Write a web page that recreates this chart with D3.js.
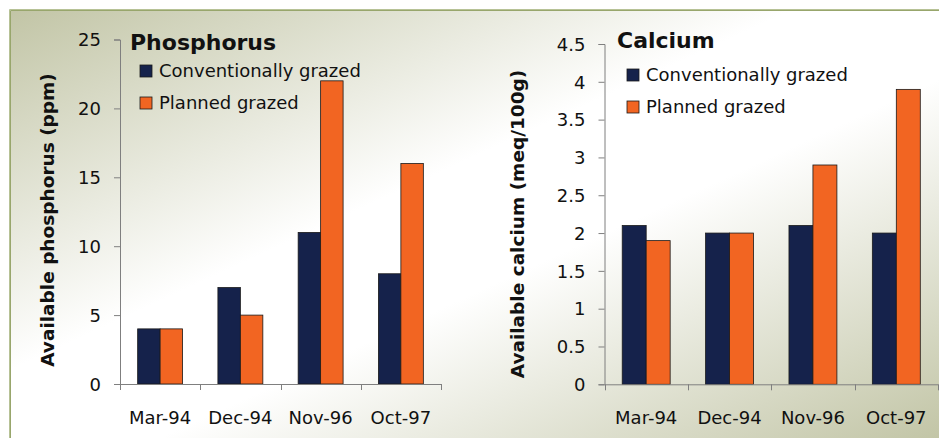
<!DOCTYPE html>
<html>
<head>
<meta charset="utf-8">
<script src="https://cdn.jsdelivr.net/npm/d3@7"></script>
<style>
  html, body { margin: 0; padding: 0; background: #ffffff; }
  svg { display: block; }
</style>
</head>
<body>
<svg id="chart" width="939" height="438"></svg>
<script>
// ---- data ----
const categories = ["Mar-94", "Dec-94", "Nov-96", "Oct-97"];
const seriesNames = ["Conventionally grazed", "Planned grazed"];
const phosConventional = [4, 7, 11, 8];
const phosPlanned = [4, 5, 22, 16];
const calcConventional = [2.1, 2.0, 2.1, 2.0];
const calcPlanned = [1.9, 2.0, 2.9, 3.9];
const phosTicks = [0, 5, 10, 15, 20, 25];
const calcTicks = [0, 0.5, 1, 1.5, 2, 2.5, 3, 3.5, 4, 4.5];

const colors = ["#15224b", "#f26522"];
const font = "'DejaVu Sans', Verdana, sans-serif";

const svg = d3.select("#chart");
const W = 939, H = 438;

// background gradient
const defs = svg.append("defs");
const grad = defs.append("linearGradient").attr("id", "bg")
  .attr("x1", 0).attr("y1", 0).attr("x2", 1).attr("y2", 1);
grad.append("stop").attr("offset", 0).attr("stop-color", "#c2c5a6");
grad.append("stop").attr("offset", 0.42).attr("stop-color", "#ffffff");
grad.append("stop").attr("offset", 0.58).attr("stop-color", "#ffffff");
grad.append("stop").attr("offset", 1).attr("stop-color", "#c2c5a6");

svg.append("rect").attr("x", 11).attr("y", 11).attr("width", W - 11).attr("height", H - 11)
  .attr("fill", "url(#bg)");
// frame lines
svg.append("path").attr("d", `M9.5,${H} V9.5 H${W}`).attr("fill", "none")
  .attr("stroke", "#b7c296").attr("stroke-width", 1);
svg.append("path").attr("d", `M10.5,${H} V10.5 H${W}`).attr("fill", "none")
  .attr("stroke", "#98a66c").attr("stroke-width", 1);

function drawChart(cfg) {
  const g = svg.append("g");
  const x = d3.scaleBand().domain(categories).range([cfg.x0, cfg.x1])
    .paddingInner(cfg.pad).paddingOuter(cfg.pad / 2);
  const xs = d3.scaleBand().domain([0, 1]).range([0, x.bandwidth()]);
  const y = d3.scaleLinear().domain([0, cfg.max]).range([cfg.y0, cfg.yTop]);
  const axisColor = "#7f7f7f";

  // bars
  const seriesData = [cfg.s1, cfg.s2];
  seriesData.forEach((vals, si) => {
    g.selectAll(null).data(vals).enter().append("rect")
      .attr("x", (d, i) => x(categories[i]) + xs(si))
      .attr("y", d => y(d))
      .attr("width", xs.bandwidth())
      .attr("height", d => y(0) - y(d))
      .attr("fill", colors[si])
      .attr("stroke", "#1a1a1a")
      .attr("stroke-width", 0.8);
  });

  // y axis
  const yAxis = d3.axisLeft(y).tickValues(cfg.ticks).tickSize(6).tickPadding(13)
    .tickFormat(d => String(d));
  const ya = g.append("g").attr("transform", `translate(${cfg.x0},0)`).call(yAxis);
  ya.select(".domain").attr("stroke", axisColor).attr("d", `M-6,${cfg.yTop + 0.5}H0.5V${cfg.y0}`);
  ya.selectAll(".tick line").attr("stroke", axisColor);
  ya.selectAll(".tick text").attr("font-family", font).attr("font-size", 18)
    .attr("fill", "#111").attr("dy", "0.35em");

  // x axis
  const step = x.step();
  const boundaries = d3.range(categories.length + 1).map(i => cfg.x0 + i * step);
  g.append("line").attr("x1", cfg.x0 - 6).attr("x2", cfg.x1)
    .attr("y1", cfg.y0 + 0.5).attr("y2", cfg.y0 + 0.5).attr("stroke", axisColor);
  g.selectAll(null).data(boundaries).enter().append("line")
    .attr("x1", d => Math.round(d) + 0.5).attr("x2", d => Math.round(d) + 0.5)
    .attr("y1", cfg.y0).attr("y2", cfg.y0 + 6).attr("stroke", axisColor);
  g.selectAll(null).data(categories).enter().append("text")
    .attr("x", d => x(d) + x.bandwidth() / 2)
    .attr("y", 424)
    .attr("text-anchor", "middle")
    .attr("font-family", font).attr("font-size", 18).attr("fill", "#111")
    .text(d => d);

  // y title
  g.append("text")
    .attr("transform", `translate(${cfg.titleX},${cfg.titleY}) rotate(-90)`)
    .attr("text-anchor", "middle")
    .attr("font-family", font).attr("font-size", 18.5).attr("font-weight", "bold")
    .attr("fill", "#111")
    .text(cfg.yTitle);

  // chart title
  g.append("text").attr("x", cfg.headX).attr("y", cfg.headY)
    .attr("font-family", font).attr("font-size", 22).attr("font-weight", "bold")
    .attr("fill", "#111").text(cfg.head);

  // legend
  seriesNames.forEach((name, i) => {
    const by = cfg.legY[i];
    g.append("rect").attr("x", cfg.legX).attr("y", by - 12)
      .attr("width", 12).attr("height", 12)
      .attr("fill", colors[i]).attr("stroke", "#1a1a1a").attr("stroke-width", 0.8);
    g.append("text").attr("x", cfg.legX + 19).attr("y", by)
      .attr("font-family", font).attr("font-size", 18).attr("fill", "#111")
      .text(name);
  });
}

drawChart({
  x0: 120, x1: 441, y0: 384, yTop: 39.5, max: 25, pad: 0.44,
  s1: phosConventional, s2: phosPlanned, ticks: phosTicks,
  yTitle: "Available phosphorus (ppm)", titleX: 54, titleY: 220,
  head: "Phosphorus", headX: 130, headY: 50,
  legX: 140, legY: [77, 109]
});

drawChart({
  x0: 604.5, x1: 938, y0: 384.3, yTop: 44, max: 4.5, pad: 0.425,
  s1: calcConventional, s2: calcPlanned, ticks: calcTicks,
  yTitle: "Available calcium (meq/100g)", titleX: 524, titleY: 224,
  head: "Calcium", headX: 617, headY: 48,
  legX: 627, legY: [81, 113]
});
</script>
</body>
</html>
